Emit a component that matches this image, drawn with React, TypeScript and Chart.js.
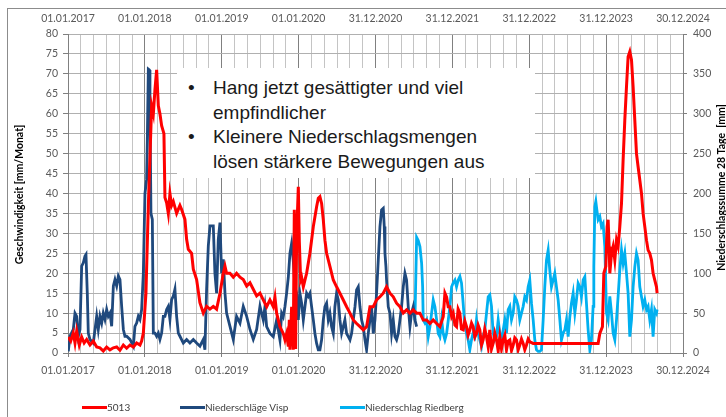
import React, { useEffect, useRef } from "react";
import { Chart, registerables } from "chart.js";

Chart.register(...registerables);

// x values are decimal years (2017.0 = 01.01.2017)
const xLabels = [
  "01.01.2017", "01.01.2018", "01.01.2019", "01.01.2020", "31.12.2020",
  "31.12.2021", "31.12.2022", "31.12.2023", "30.12.2024",
];

const leftTitle = "Geschwindigkeit [mm/Monat]";
const rightTitle = "Niederschlagssumme 28 Tage  [mm]";

// 5013 – Geschwindigkeit [mm/Monat] (left axis)
const red5013: [number, number][] = [
  [2017.004, 4], [2017.035, 3], [2017.069, 5], [2017.091, 2.5], [2017.113, 5.5], [2017.147, 2],
  [2017.178, 4], [2017.21, 2.5], [2017.243, 3.4], [2017.286, 2], [2017.329, 3], [2017.373, 1.5],
  [2017.416, 1.3], [2017.459, 0.5], [2017.503, 1.5], [2017.546, 0.8], [2017.59, 1.3], [2017.633, 1.5],
  [2017.676, 0.7], [2017.72, 2], [2017.763, 1.2], [2017.806, 2], [2017.85, 1.5], [2017.893, 2.5],
  [2017.936, 2], [2017.958, 3], [2017.98, 5], [2018.014, 15], [2018.045, 37], [2018.088, 62],
  [2018.11, 60], [2018.131, 66], [2018.153, 71], [2018.175, 62], [2018.196, 60], [2018.218, 57],
  [2018.248, 55], [2018.261, 39], [2018.283, 37.7], [2018.305, 35], [2018.326, 40], [2018.348, 37],
  [2018.37, 38], [2018.413, 35], [2018.456, 37], [2018.478, 36], [2018.521, 33.5], [2018.543, 28.5],
  [2018.565, 26], [2018.608, 25], [2018.63, 21], [2018.673, 18.4], [2018.716, 12.6], [2018.76, 10],
  [2018.803, 11.7], [2018.846, 11], [2018.89, 11.7], [2018.933, 11], [2018.977, 15], [2019.02, 20],
  [2019.042, 21.8], [2019.063, 20], [2019.107, 20], [2019.15, 19], [2019.193, 20], [2019.237, 19],
  [2019.28, 18.4], [2019.324, 16.8], [2019.367, 17.6], [2019.41, 16], [2019.454, 14.3], [2019.497, 15],
  [2019.54, 13.3], [2019.584, 11.6], [2019.627, 13.3], [2019.67, 11.6], [2019.692, 14], [2019.714, 10],
  [2019.757, 6.6], [2019.8, 4.9], [2019.822, 3.3], [2019.844, 4.9], [2019.866, 1.6], [2019.879, 8.3],
  [2019.887, 0.8], [2019.909, 11.6], [2019.93, 0.8], [2019.944, 35.9], [2019.961, 1], [2019.974, 29],
  [2019.996, 41.7], [2020.009, 28], [2020.026, 18.3], [2020.039, 19], [2020.061, 16.6], [2020.082, 18.3],
  [2020.104, 20], [2020.147, 25], [2020.191, 31.7], [2020.234, 36.7], [2020.256, 38.8], [2020.277, 39.2],
  [2020.299, 37.5], [2020.321, 33.4], [2020.342, 28.3], [2020.364, 25], [2020.407, 21.7], [2020.451, 18.3],
  [2020.494, 16.6], [2020.537, 15], [2020.581, 13.3], [2020.624, 11.6], [2020.668, 10], [2020.711, 8.3],
  [2020.754, 7.4], [2020.798, 6.6], [2020.841, 5.8], [2020.884, 6.6], [2020.928, 11.6], [2020.971, 11.6],
  [2021.014, 13.3], [2021.058, 14.1], [2021.101, 15], [2021.144, 16.6], [2021.188, 15], [2021.231, 14.1],
  [2021.274, 12.5], [2021.318, 11.6], [2021.361, 10], [2021.404, 10.8], [2021.448, 10], [2021.491, 10.8],
  [2021.535, 10], [2021.578, 10], [2021.621, 8.3], [2021.665, 8.3], [2021.708, 7.4], [2021.751, 8.3],
  [2021.795, 7.4], [2021.838, 6.6], [2021.881, 9.1], [2021.903, 15], [2021.925, 14], [2021.946, 11.6],
  [2021.968, 11.6], [2021.99, 9.1], [2022.011, 10], [2022.033, 7], [2022.054, 6.6], [2022.075, 11],
  [2022.097, 10], [2022.118, 6], [2022.14, 5.8], [2022.162, 8], [2022.184, 6.6], [2022.205, 4.5],
  [2022.227, 5.8], [2022.249, 7.5], [2022.27, 6.6], [2022.292, 4], [2022.314, 4.9], [2022.335, 7],
  [2022.357, 5.8], [2022.379, 2], [2022.4, 3.3], [2022.422, 6], [2022.444, 4.1], [2022.466, 1.5],
  [2022.487, 5.8], [2022.509, 1], [2022.53, 2.4], [2022.552, 5], [2022.574, 3.3], [2022.596, 0.5],
  [2022.617, 4.1], [2022.639, 1], [2022.661, 3.3], [2022.682, 4.5], [2022.704, 0.8], [2022.726, 3],
  [2022.747, 3.3], [2022.769, 0.6], [2022.791, 2], [2022.812, 3.8], [2022.834, 3.3], [2022.856, 0.8],
  [2022.877, 2], [2022.899, 3.5], [2022.921, 2.4], [2022.942, 0.8], [2022.964, 2], [2022.986, 3.5],
  [2023.007, 2.8], [2023.051, 2.4], [2023.896, 2.4], [2023.918, 4.9], [2023.952, 6.6], [2023.97, 20],
  [2023.996, 21.7], [2024.013, 31.7], [2024.026, 33.4], [2024.039, 26.7], [2024.048, 20], [2024.07, 25],
  [2024.091, 26.7], [2024.113, 23.3], [2024.135, 28.3], [2024.156, 26.7], [2024.178, 31.7], [2024.2, 37.5],
  [2024.221, 48.4], [2024.243, 58.4], [2024.265, 66.8], [2024.286, 74.3], [2024.308, 75.6], [2024.33, 73.5],
  [2024.351, 66.8], [2024.373, 58.4], [2024.395, 50], [2024.416, 46.7], [2024.438, 43.4], [2024.46, 40],
  [2024.481, 35], [2024.503, 31.7], [2024.525, 28.3], [2024.546, 25.8], [2024.568, 25], [2024.59, 23.3],
  [2024.611, 20], [2024.633, 18.3], [2024.655, 16.6], [2024.663, 15],
];

// Niederschläge Visp – 28-day sum [mm] (right axis)
const vispRain: [number, number][] = [
  [2017.004, 2], [2017.026, 21], [2017.069, 29.5], [2017.091, 50], [2017.113, 46], [2017.134, 21],
  [2017.156, 29.5], [2017.178, 109], [2017.199, 113], [2017.221, 121.5], [2017.234, 123.5], [2017.251, 75],
  [2017.264, 25], [2017.286, 17], [2017.329, 12.5], [2017.373, 46], [2017.394, 29.5], [2017.416, 46],
  [2017.438, 37.5], [2017.459, 50], [2017.481, 42], [2017.503, 54.5], [2017.524, 46], [2017.546, 50],
  [2017.568, 33.5], [2017.59, 84], [2017.611, 92], [2017.633, 84], [2017.655, 96.5], [2017.676, 92],
  [2017.698, 58.5], [2017.72, 29.5], [2017.741, 21], [2017.763, 21], [2017.806, 17], [2017.85, 8.5],
  [2017.871, 33.5], [2017.893, 37.5], [2017.915, 46], [2017.936, 42], [2017.958, 54.5], [2017.98, 100],
  [2018.001, 200], [2018.023, 218], [2018.032, 268], [2018.045, 356], [2018.058, 355], [2018.066, 310],
  [2018.079, 175], [2018.097, 167.5], [2018.11, 25], [2018.131, 25], [2018.153, 21], [2018.175, 25],
  [2018.196, 17], [2018.218, 25], [2018.24, 46], [2018.261, 46], [2018.283, 54.5], [2018.305, 58.5],
  [2018.326, 42], [2018.348, 67], [2018.37, 71.5], [2018.391, 80], [2018.413, 46], [2018.435, 25],
  [2018.456, 21], [2018.5, 12.5], [2018.543, 17], [2018.586, 12.5], [2018.63, 17], [2018.673, 12.5],
  [2018.716, 8.5], [2018.76, 17], [2018.781, 4], [2018.803, 80], [2018.825, 134], [2018.847, 159.5],
  [2018.89, 159.5], [2018.911, 100], [2018.933, 75], [2018.955, 142.5], [2018.977, 163.5], [2018.998, 100],
  [2019.02, 117.5], [2019.042, 75], [2019.063, 50], [2019.107, 33.5], [2019.15, 17], [2019.193, 46],
  [2019.237, 37.5], [2019.28, 58.5], [2019.324, 46], [2019.367, 29.5], [2019.41, 17], [2019.454, 29.5],
  [2019.497, 58.5], [2019.54, 41.5], [2019.562, 58], [2019.584, 33], [2019.627, 24.5], [2019.67, 20.5],
  [2019.714, 41.5], [2019.757, 16.5], [2019.779, 50], [2019.8, 45.5], [2019.822, 58], [2019.844, 75],
  [2019.866, 95], [2019.887, 125], [2019.909, 137.5], [2019.93, 116.5], [2019.952, 83], [2019.974, 75],
  [2019.996, 41.5], [2020.017, 75], [2020.039, 62.5], [2020.061, 41.5], [2020.082, 58], [2020.104, 75],
  [2020.126, 71], [2020.147, 75], [2020.169, 58], [2020.191, 41.5], [2020.212, 24.5], [2020.234, 12],
  [2020.256, 4], [2020.277, 4], [2020.299, 16.5], [2020.321, 41.5], [2020.342, 58], [2020.364, 62.5],
  [2020.386, 41.5], [2020.407, 50], [2020.429, 33], [2020.451, 24.5], [2020.472, 58], [2020.494, 75],
  [2020.516, 66.5], [2020.537, 41.5], [2020.559, 24.5], [2020.581, 33], [2020.602, 41.5], [2020.624, 24.5],
  [2020.646, 20.5], [2020.668, 16.5], [2020.689, 24.5], [2020.711, 41.5], [2020.733, 58], [2020.754, 79],
  [2020.776, 83], [2020.798, 58], [2020.819, 41.5], [2020.841, 33], [2020.863, 16.5], [2020.884, 4],
  [2020.906, 24.5], [2020.928, 41.5], [2020.949, 58], [2020.971, 24.5], [2020.993, 41.5], [2021.014, 75],
  [2021.036, 116.5], [2021.058, 158.5], [2021.079, 179.5], [2021.101, 181.5], [2021.114, 158.5], [2021.123, 125],
  [2021.136, 108], [2021.144, 91.5], [2021.166, 58], [2021.188, 50], [2021.209, 24.5], [2021.231, 41.5],
  [2021.253, 20.5], [2021.274, 16.5], [2021.296, 24.5], [2021.318, 41.5], [2021.339, 58], [2021.361, 83],
  [2021.383, 100], [2021.404, 91.5], [2021.426, 58], [2021.448, 33], [2021.469, 50], [2021.491, 58],
  [2021.513, 41.5], [2021.535, 33],
];

// Niederschlag Riedberg – 28-day sum [mm] (right axis)
const riedbergRain: [number, number][] = [
  [2021.513, 41.5], [2021.535, 145], [2021.556, 141], [2021.578, 133.5], [2021.6, 112.5], [2021.613, 83],
  [2021.621, 41.5], [2021.643, 37.5], [2021.665, 41.5], [2021.686, 20.5], [2021.708, 33], [2021.73, 50],
  [2021.751, 66.5], [2021.773, 58], [2021.795, 41.5], [2021.816, 24.5], [2021.838, 20.5], [2021.86, 41.5],
  [2021.881, 24.5], [2021.903, 16.5], [2021.925, 24.5], [2021.968, 58], [2021.99, 83], [2022.011, 88],
  [2022.033, 91.5], [2022.054, 83], [2022.076, 91.5], [2022.098, 96], [2022.119, 87.5], [2022.14, 62.5],
  [2022.162, 33.5], [2022.184, 25], [2022.205, 16.5], [2022.227, 4], [2022.249, 16.5], [2022.27, 25],
  [2022.292, 20.5], [2022.314, 41.5], [2022.335, 25], [2022.357, 16.5], [2022.379, 8], [2022.4, 20.5],
  [2022.422, 29], [2022.444, 50], [2022.466, 70.5], [2022.487, 73], [2022.509, 58.5], [2022.53, 25],
  [2022.552, 16.5], [2022.574, 20.5], [2022.596, 41.5], [2022.617, 25], [2022.639, 16.5], [2022.661, 29],
  [2022.682, 41.5], [2022.704, 25], [2022.726, 54.5], [2022.747, 58.5], [2022.769, 41.5], [2022.791, 50],
  [2022.812, 70.5], [2022.834, 66.5], [2022.856, 58.5], [2022.877, 41.5], [2022.899, 50], [2022.921, 58.5],
  [2022.942, 70.5], [2022.964, 66.5], [2022.986, 83], [2023.007, 91.5], [2023.029, 62.5], [2023.051, 41.5],
  [2023.072, 16.5], [2023.094, 4], [2023.116, 2], [2023.137, 2], [2023.159, 4], [2023.181, 41.5],
  [2023.202, 83], [2023.224, 116.5], [2023.246, 129], [2023.267, 104], [2023.289, 83], [2023.311, 91.5],
  [2023.332, 100], [2023.354, 83], [2023.376, 66.5], [2023.398, 41.5], [2023.419, 16.5], [2023.441, 25],
  [2023.463, 29], [2023.484, 41.5], [2023.506, 20.5], [2023.528, 45.5], [2023.549, 62.5], [2023.571, 75],
  [2023.593, 50], [2023.614, 66.5], [2023.636, 87.5], [2023.658, 83], [2023.679, 70.5], [2023.701, 91.5],
  [2023.723, 95.5], [2023.744, 62.5], [2023.766, 29], [2023.788, 4], [2023.809, 16.5], [2023.831, 58.5],
  [2023.84, 108], [2023.853, 183.5], [2023.866, 190], [2023.874, 183.5], [2023.896, 167], [2023.918, 171],
  [2023.939, 158.5], [2023.961, 162.5], [2023.983, 133.5], [2024.005, 50], [2024.026, 41.5], [2024.048, 71],
  [2024.07, 50], [2024.091, 25], [2024.113, 16.5], [2024.135, 41.5], [2024.156, 71], [2024.178, 104],
  [2024.2, 129], [2024.221, 112.5], [2024.243, 125], [2024.265, 100], [2024.286, 75], [2024.308, 20.5],
  [2024.33, 41.5], [2024.351, 83], [2024.373, 108], [2024.395, 125], [2024.416, 116.5], [2024.438, 83],
  [2024.46, 70.5], [2024.481, 58.5], [2024.503, 66.5], [2024.525, 54.5], [2024.546, 58.5], [2024.568, 41.5],
  [2024.59, 54.5], [2024.611, 20.5], [2024.633, 54.5], [2024.655, 50], [2024.663, 54.5],
];

const seriesNames = ["5013", "Niederschläge Visp", "Niederschlag Riedberg"];
const seriesColors = ["#ff0000", "#1f497d", "#00b0f0"];

const boxLines: { bullet: boolean; text: string }[] = [
  { bullet: true, text: "Hang jetzt gesättigter und viel" },
  { bullet: false, text: "empfindlicher" },
  { bullet: true, text: "Kleinere Niederschlagsmengen" },
  { bullet: false, text: "lösen stärkere Bewegungen aus" },
];

const FONT = "Lato, 'Liberation Sans', sans-serif";
const TICK_COLOR = "#595959";

const buildXTicks = (scale: any) => {
  const t: { value: number }[] = [];
  for (let i = 0; i <= 48; i++) t.push({ value: 2017 + i / 6 });
  scale.ticks = t;
};
const xLabelCb = (_v: any, index: number) => (index % 6 === 0 ? xLabels[index / 6] : "");

const titlePlugin = {
  id: "axisTitles",
  afterDraw(chart: any) {
    const { ctx, chartArea } = chart;
    const cy = (chartArea.top + chartArea.bottom) / 2;
    ctx.save();
    ctx.font = `bold 10.5px ${FONT}`;
    ctx.fillStyle = "#000";
    ctx.textAlign = "center";
    ctx.textBaseline = "middle";
    ctx.save();
    ctx.translate(12, cy + 1);
    ctx.rotate(-Math.PI / 2);
    ctx.fillText(leftTitle, 0, 0);
    ctx.restore();
    ctx.save();
    ctx.translate(714, cy - 6);
    ctx.rotate(-Math.PI / 2);
    ctx.fillText(rightTitle, 0, 0);
    ctx.restore();
    ctx.restore();
  },
};

export default function App() {
  const ref = useRef<HTMLCanvasElement | null>(null);

  useEffect(() => {
    if (!ref.current) return;
    const toPts = (arr: [number, number][]) => arr.map(([x, y]) => ({ x, y }));
    const chart = new Chart(ref.current, {
      type: "line",
      data: {
        datasets: [
          {
            label: seriesNames[0],
            data: toPts(red5013),
            borderColor: seriesColors[0],
            backgroundColor: seriesColors[0],
            borderWidth: 3,
            pointRadius: 0,
            yAxisID: "y",
            xAxisID: "x",
          },
          {
            label: seriesNames[1],
            data: toPts(vispRain),
            borderColor: seriesColors[1],
            backgroundColor: seriesColors[1],
            borderWidth: 2.8,
            pointRadius: 0,
            yAxisID: "y2",
            xAxisID: "x",
          },
          {
            label: seriesNames[2],
            data: toPts(riedbergRain),
            borderColor: seriesColors[2],
            backgroundColor: seriesColors[2],
            borderWidth: 2.8,
            pointRadius: 0,
            yAxisID: "y2",
            xAxisID: "x",
          },
        ],
      },
      options: {
        animation: false,
        responsive: false,
        maintainAspectRatio: false,
        layout: { padding: 0 },
        plugins: { legend: { display: false }, tooltip: { enabled: false } },
        scales: {
          x: {
            type: "linear",
            position: "bottom",
            min: 2017,
            max: 2025,
            afterBuildTicks: buildXTicks,
            afterFit: (s: any) => { s.height = 64; },
            ticks: {
              autoSkip: false,
              maxRotation: 0,
              minRotation: 0,
              padding: 7,
              color: TICK_COLOR,
              font: { family: FONT, size: 10.5 },
              callback: xLabelCb,
            },
            grid: {
              color: (c: any) => (c.index % 6 === 0 ? "#808080" : "#c4c4c4"),
              tickColor: (c: any) => (c.index % 6 === 0 ? "#808080" : "rgba(0,0,0,0)"),
              tickLength: 4,
              lineWidth: 1,
            },
            border: { color: "#808080" },
          },
          xTop: {
            type: "linear",
            position: "top",
            min: 2017,
            max: 2025,
            afterBuildTicks: buildXTicks,
            afterFit: (s: any) => { s.height = 25; },
            ticks: {
              autoSkip: false,
              maxRotation: 0,
              minRotation: 0,
              padding: 9,
              color: TICK_COLOR,
              font: { family: FONT, size: 10.5 },
              callback: xLabelCb,
            },
            grid: { display: false, drawTicks: false },
            border: { display: false },
          },
          y: {
            position: "left",
            min: 0,
            max: 80,
            afterFit: (s: any) => { s.width = 60; },
            ticks: {
              stepSize: 5,
              padding: 5,
              color: TICK_COLOR,
              font: { family: FONT, size: 10.5 },
            },
            grid: { color: "#b0b0b0", tickColor: "#808080", tickLength: 5 },
            border: { color: "#808080" },
          },
          y2: {
            position: "right",
            min: 0,
            max: 400,
            afterFit: (s: any) => { s.width = 43; },
            ticks: {
              stepSize: 50,
              padding: 6,
              color: TICK_COLOR,
              font: { family: FONT, size: 10.5 },
            },
            grid: { drawOnChartArea: false, color: "#808080", tickLength: 4 },
            border: { color: "#808080" },
          },
        },
      },
      plugins: [titlePlugin],
    } as any);
    return () => chart.destroy();
  }, []);

  const legendX = [74, 172, 332];

  return (
    <div
      style={{
        position: "fixed",
        left: 7,
        top: 8,
        width: 740,
        height: 430,
        borderTop: "1px solid #8c8c8c",
        borderLeft: "1px solid #8c8c8c",
        background: "#fff",
      }}
    >
      <canvas
        ref={ref}
        width={718}
        height={408}
        style={{ position: "absolute", left: 0, top: 0, width: 718, height: 408 }}
      />
      <div
        style={{
          position: "absolute",
          left: 169,
          top: 59,
          width: 358,
          height: 110,
          background: "#fff",
          fontFamily: "'Liberation Sans', Arial, sans-serif",
          fontSize: 19,
          lineHeight: "24.5px",
          color: "#1a1a1a",
          paddingTop: 8,
          boxSizing: "border-box",
        }}
      >
        {boxLines.map((l, i) => (
          <div key={i} style={{ position: "relative", paddingLeft: 36, whiteSpace: "nowrap" }}>
            {l.bullet && <span style={{ position: "absolute", left: 11 }}>•</span>}
            {l.text}
          </div>
        ))}
      </div>
      {seriesNames.map((name, i) => (
        <div
          key={name}
          style={{
            position: "absolute",
            left: legendX[i],
            top: 391,
            height: 14,
            display: "flex",
            alignItems: "center",
            fontFamily: FONT,
            fontSize: 10,
            color: "#404040",
            whiteSpace: "nowrap",
          }}
        >
          <span style={{ display: "inline-block", width: 25, height: 3, background: seriesColors[i] }} />
          <span>{name}</span>
        </div>
      ))}
    </div>
  );
}
